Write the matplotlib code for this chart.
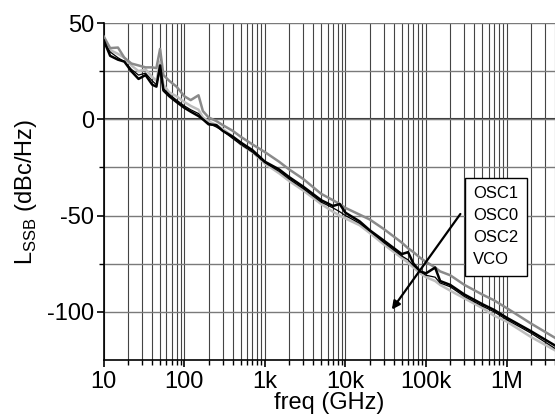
import matplotlib
matplotlib.use("Agg")
import matplotlib.pyplot as plt
from matplotlib.ticker import FixedLocator, FixedFormatter, LogLocator, NullFormatter
from matplotlib.lines import Line2D

plt.rcParams['font.family'] = ['Liberation Sans', 'DejaVu Sans']

freq = [10, 12, 15, 18, 22, 27, 33, 40, 45, 50, 55, 65, 80, 100, 120, 150, 170, 200, 250,
        300, 400, 500, 700, 1000, 1500, 2000, 3000, 5000, 7000, 8500, 10000, 15000, 20000,
        30000, 50000, 60000, 70000, 85000, 100000, 130000, 150000, 200000, 300000, 500000,
        700000, 1000000, 2000000, 4000000]

osc1 = [43, 37, 37.3, 32, 29, 28, 27, 27, 26.6, 36.6, 23, 20, 17, 12, 10, 12.5, 4.3, 1, -0.9,
        -3, -6, -9, -13, -17, -22, -26, -31, -38.7, -42, -44, -46, -49.5, -52,
        -57, -64, -67, -69, -72, -74, -77, -79, -81, -86, -91,
        -94, -98, -106, -113.5]

osc0 = [41, 33, 31, 30, 25, 21, 23, 18, 17, 28, 15, 12, 9, 6, 4, 1.7, 0, -2.6, -3,
        -6, -9, -12, -16, -22, -26, -30, -35, -42, -45, -44, -48.5, -53, -57.6,
        -63, -70, -69, -75, -79, -80, -77, -84, -86, -91, -96,
        -99, -103, -110, -117.5]

osc2 = [40, 35, 32, 30, 26, 23, 24, 20, 18, 25, 16, 13, 10, 7, 5, 3, 0, -2, -4,
        -6, -10, -13, -17, -22.5, -27, -31, -36, -43, -46, -48, -50, -54, -58,
        -64, -71, -73, -76, -79, -81, -82, -85, -87, -92, -97,
        -100, -104, -111, -119]

vco = [42, 36, 34, 32, 28, 25, 26, 22, 20, 30, 18, 14, 12, 9, 7, 5, 1, -1, -3,
       -5, -9, -13, -17, -23, -28, -32, -37, -44, -48, -50, -51.5, -55, -59,
       -65, -72, -74.5, -77, -80, -82, -84, -86, -89, -93, -98,
       -102, -105, -113, -120]

xticks = [10, 100, 1000, 10000, 100000, 1000000]
xticklabels = ['10', '100', '1k', '10k', '100k', '1M']
yticks = [50, 0, -50, -100]
yticklabels = ['50', '0', '-50', '-100']
legend_labels = ['OSC1', 'OSC0', 'OSC2', 'VCO']

fig = plt.figure(figsize=(5.55, 4.2), dpi=100)
ax = fig.add_axes([0.187, 0.143, 0.813, 0.802])

ax.set_xscale('log')
ax.set_xlim(10, 4e6)
ax.set_ylim(-125, 50)

ax.xaxis.set_major_locator(FixedLocator(xticks))
ax.xaxis.set_major_formatter(FixedFormatter(xticklabels))
ax.xaxis.set_minor_locator(LogLocator(base=10, subs=[2, 3, 4, 5, 6, 7, 8, 9], numticks=20))
ax.xaxis.set_minor_formatter(NullFormatter())
ax.yaxis.set_major_locator(FixedLocator(yticks))
ax.yaxis.set_major_formatter(FixedFormatter(yticklabels))
ax.yaxis.set_minor_locator(FixedLocator([25, -25, -75]))

ax.grid(True, which='both', axis='x', color='#444444', lw=0.8)
ax.grid(True, which='both', axis='y', color='#7a7a7a', lw=1.0)
ax.axhline(0, color='#333333', lw=1.5, zorder=1.5)

ax.plot(freq, vco, color='#bdbdbd', lw=1.8, zorder=3)
ax.plot(freq, osc1, color='#8a8a8a', lw=1.8, zorder=3)
ax.plot(freq, osc0, color='black', lw=1.8, zorder=4)
ax.plot(freq, osc2, color='black', lw=0.9, zorder=4)

for s in ['top', 'right']:
    ax.spines[s].set_visible(False)
for s in ['left', 'bottom']:
    ax.spines[s].set_linewidth(1.2)

ax.tick_params(axis='both', which='major', direction='out', length=5, width=1.2, labelsize=17)
ax.tick_params(axis='x', which='major', pad=3)
ax.tick_params(axis='y', which='major', pad=2)
ax.tick_params(axis='both', which='minor', direction='out', length=3.5, width=1.0)

ax.set_xlabel('freq (GHz)', fontsize=17, labelpad=-1)
ax.set_ylabel(r'L$_{\mathregular{SSB}}$ (dBc/Hz)', fontsize=17, labelpad=6)

handles = [Line2D([], [], lw=0) for _ in legend_labels]
leg = ax.legend(handles, legend_labels, handlelength=0, handletextpad=0, fontsize=12,
                loc='upper left', bbox_to_anchor=(465 / 555, 1 - 178 / 420),
                bbox_transform=fig.transFigure, frameon=True, fancybox=False,
                edgecolor='black', framealpha=1, borderpad=0.5, labelspacing=0.42,
                borderaxespad=0)
leg.get_frame().set_linewidth(1.0)
leg.set_zorder(6)

ax.annotate('', xy=(3.6e4, -100), xytext=(2.8e5, -48),
            arrowprops=dict(arrowstyle='-|>', color='black', lw=1.6, mutation_scale=12),
            zorder=7)

fig.savefig('out.png', dpi=100)
